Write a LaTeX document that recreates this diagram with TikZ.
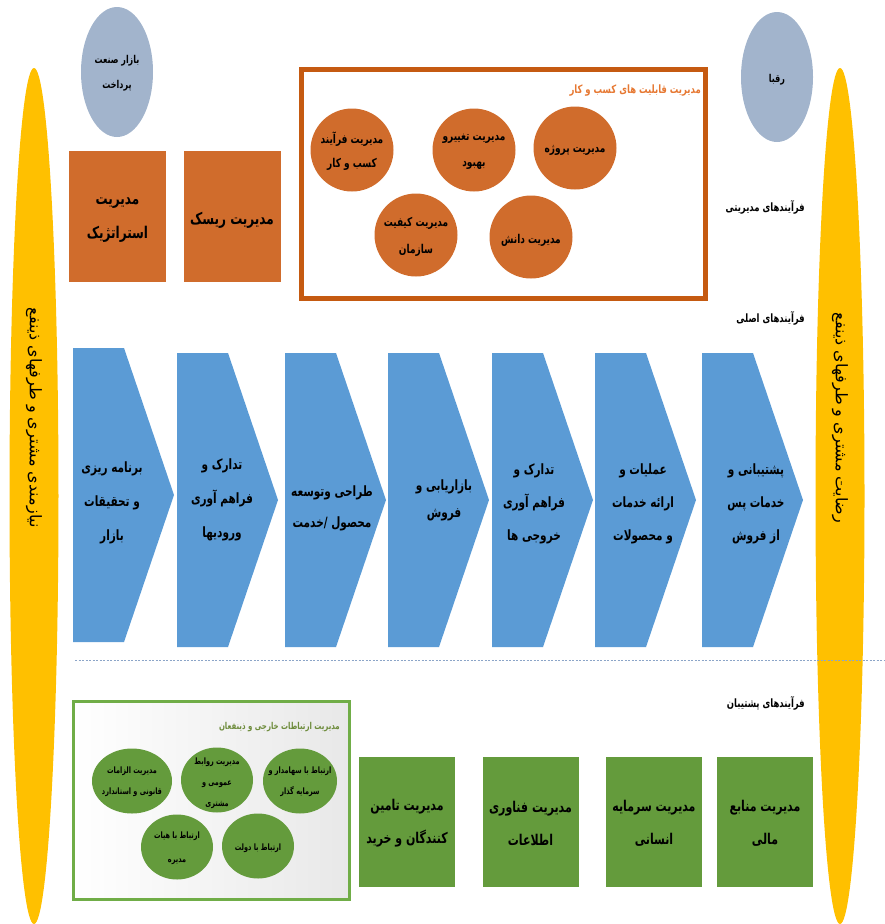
\documentclass[tikz,border=0pt]{standalone}
\usepackage{fontspec}
\usetikzlibrary{shapes.geometric}
\TeXXeTstate=1
\newfontfamily\arabicfont[Script=Arabic]{DejaVu Sans}
\newcommand\rtl[1]{\scalebox{1}[1.35]{\beginR#1\endR}}
\newcommand\rtlplain[1]{\beginR#1\endR}
\definecolor{ylw}{RGB}{255,192,0}
\definecolor{bgray}{RGB}{162,180,204}
\definecolor{orng}{RGB}{208,108,44}
\definecolor{orngdark}{RGB}{197,90,17}
\definecolor{orngtxt}{RGB}{230,120,50}
\definecolor{chevblue}{RGB}{91,155,213}
\definecolor{grn}{RGB}{100,155,60}
\definecolor{grnframe}{RGB}{112,173,71}
\definecolor{grntxt}{RGB}{110,140,60}
\definecolor{dashc}{RGB}{140,165,200}
\tikzset{
  fa/.style={align=center, text=black, inner sep=0pt},
  fs/.style args={#1/#2}{font=\arabicfont\bfseries\fontsize{#1}{#2}\selectfont},
  obox/.style={fill=orng, minimum width=97pt, minimum height=131pt, inner sep=0pt},
  gbox/.style={fill=grn, minimum width=96pt, minimum height=130pt, inner sep=0pt},
  ocirc/.style={circle, fill=orng, minimum size=83pt, inner sep=0pt},
  gell/.style={ellipse, fill=grn, minimum width=74pt, minimum height=65pt, inner sep=0pt},
  bell/.style={ellipse, fill=bgray, minimum width=72pt, minimum height=130pt, inner sep=0pt},
  yell/.style={ellipse, fill=ylw, minimum width=856pt, minimum height=49pt, inner sep=0pt, rotate=-90},
  chevfill/.style={fill=chevblue},
  lbl/.style={fa, fs=8.5/11, anchor=east},
}
\begin{document}
\begin{tikzpicture}[x=1pt,y=-1pt]
\useasboundingbox (0,0) rectangle (885,924);
% side ellipses
\node[yell] (needL) at (34,496) {};
\node[fa, rotate=-90, font=\arabicfont\fontsize{16}{18}\selectfont] (needLt) at (34,418) {\rtlplain{نیازمندی مشتری و طرفهای ذینفع}};
\node[yell] (satR) at (840,496) {};
\node[fa, rotate=-90, font=\arabicfont\fontsize{16}{18}\selectfont] (satRt) at (840,418) {\rtlplain{رضایت مشتری و طرفهای ذینفع}};
% top ellipses
\node[bell] (payind) at (117,72) {};
\node[fa, fs=8/25] (payindT) at (117,73) {\rtl{بازار صنعت}\\\rtl{پرداخت}};
\node[bell] (rivals) at (777,77) {};
\node[fa, fs=8/25] (rivalsT) at (777,80) {\rtl{رقبا}};
% orange boxes
\node[obox] (strat) at (117.5,216.5) {};
\node[fa, fs=12/34] (stratT) at (117.5,220) {\rtl{مدیریت}\\\rtl{استراتژیک}};
\node[obox] (risk) at (232,216.5) {};
\node[fa, fs=12/34] (riskT) at (232,220) {\rtl{مدیریت ریسک}};
% orange frame
\node[draw=orngdark, line width=5pt, minimum width=404pt, minimum height=229pt, inner sep=0pt] (capframe) at (503.5,184) {};
\node[fa, anchor=east, text=orngtxt, fs=8.5/11] (captitle) at (701,91) {\rtl{مدیریت قابلیت های کسب و کار}};
\node[ocirc] (bpm) at (352,150) {};
\node[fa, fs=9/24] (bpmT) at (352,151) {\rtl{مدیریت فرآیند}\\\rtl{کسب و کار}};
\node[ocirc] (chg) at (474,150) {};
\node[fa, fs=9/26] (chgT) at (474,152) {\rtl{مدیریت تغییرو}\\\rtl{بهبود}};
\node[ocirc] (proj) at (575,148) {};
\node[fa, fs=9/24] (projT) at (575,150) {\rtl{مدیریت پروژه}};
\node[ocirc] (qual) at (416,235) {};
\node[fa, fs=9/27] (qualT) at (416,237) {\rtl{مدیریت کیفیت}\\\rtl{سازمان}};
\node[ocirc] (know) at (531,237) {};
\node[fa, fs=9/24] (knowT) at (531,240) {\rtl{مدیریت دانش}};
% labels
\node[lbl] (lmgmt) at (805,207) {\rtl{فرآیندهای مدیریتی}};
\node[lbl] (lmain) at (805,318) {\rtl{فرآیندهای اصلی}};
\node[lbl] (lsupp) at (805,703) {\rtl{فرآیندهای پشتیبان}};
% chevrons
\foreach \xl/\yt in {73/348,177/353,285/353,388/353,492/353,595/353,702/353}{
  \fill[chevfill] (\xl,\yt) -- ++(51,0) -- (\xl+101,\yt+147) -- (\xl+51,\yt+294) -- (\xl,\yt+294) -- cycle;
}
\node[fa, fs=10.5/34] (c1) at (112,503) {\rtl{برنامه ریزی}\\\rtl{و تحقیقات}\\\rtl{بازار}};
\node[fa, fs=10.5/34] (c2) at (222,500) {\rtl{تدارک و}\\\rtl{فراهم آوری}\\\rtl{ورودیها}};
\node[fa, fs=10.5/31] (c3) at (332,508) {\rtl{طراحی وتوسعه}\\\rtl{محصول /خدمت}};
\node[fa, fs=10.5/27] (c4) at (444,500) {\rtl{بازاریابی و}\\\rtl{فروش}};
\node[fa, fs=10.5/33] (c5) at (534,504) {\rtl{تدارک و}\\\rtl{فراهم آوری}\\\rtl{خروجی ها}};
\node[fa, fs=10.5/33] (c6) at (643,504) {\rtl{عملیات و}\\\rtl{ارائه خدمات}\\\rtl{و محصولات}};
\node[fa, fs=10.5/33] (c7) at (756,504) {\rtl{پشتیبانی و}\\\rtl{خدمات پس}\\\rtl{از فروش}};
% dashed separator
\coordinate (dl) at (75,660);
\coordinate (dr) at (885,660);
\draw[dashc, line width=1pt, dash pattern=on 2pt off 1.5pt] (dl) -- (dr);
% green frame
\node[draw=grnframe, line width=3pt, left color=white, right color=gray!18, minimum width=276pt, minimum height=198pt, inner sep=0pt] (extframe) at (211,800) {};
\node[fa, anchor=east, text=grntxt, fs=7/10] (exttitle) at (340,727) {\rtl{مدیریت ارتباطات خارجی و ذینفعان}};
\node[gell, minimum width=80pt] (legal) at (132,781) {};
\node[fa, fs=6.5/21] (legalT) at (132,782) {\rtl{مدیریت الزامات}\\\rtl{قانونی و استاندارد}};
\node[gell, minimum width=72pt] (pr) at (217,780) {};
\node[fa, fs=6.5/21] (prT) at (217,783) {\rtl{مدیریت روابط}\\\rtl{عمومی و}\\\rtl{مشتری}};
\node[gell] (share) at (300,781) {};
\node[fa, fs=6.5/21] (shareT) at (300,782) {\rtl{ارتباط با سهامدار و}\\\rtl{سرمایه گذار}};
\node[gell, minimum width=72pt] (board) at (177,847) {};
\node[fa, fs=6.5/24] (boardT) at (177,848) {\rtl{ارتباط با هیات}\\\rtl{مدیره}};
\node[gell, minimum width=72pt] (gov) at (258,846) {};
\node[fa, fs=6.5/21] (govT) at (258,848) {\rtl{ارتباط با دولت}};
% green boxes
\node[gbox] (supply) at (407,822) {};
\node[fa, fs=11/33] (supplyT) at (407,823) {\rtl{مدیریت تامین}\\\rtl{کنندگان و خرید}};
\node[gbox] (it) at (530.5,822) {};
\node[fa, fs=11/33] (itT) at (530.5,823) {\rtl{مدیریت فناوری}\\\rtl{اطلاعات}};
\node[gbox] (hr) at (654,822) {};
\node[fa, fs=11/33] (hrT) at (654,823) {\rtl{مدیریت سرمایه}\\\rtl{انسانی}};
\node[gbox] (fin) at (765,822) {};
\node[fa, fs=11/33] (finT) at (765,823) {\rtl{مدیریت منابع}\\\rtl{مالی}};
\end{tikzpicture}
\end{document}
